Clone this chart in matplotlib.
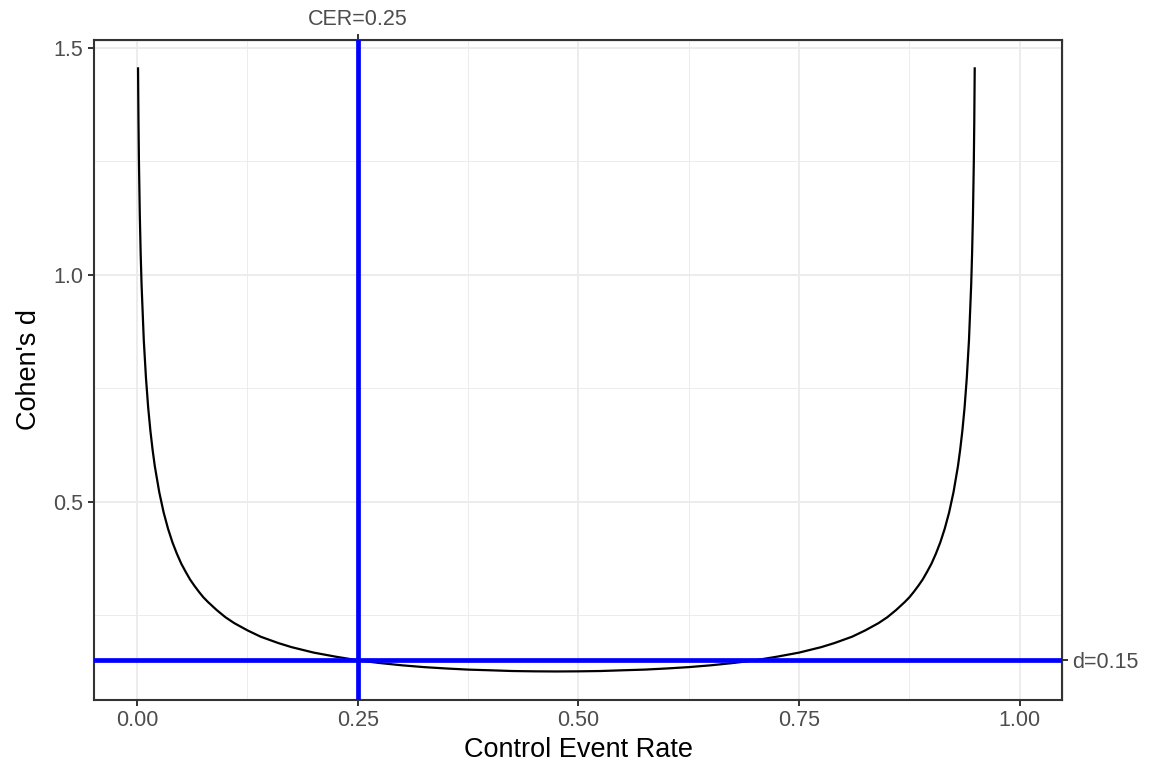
import matplotlib.pyplot as plt
from matplotlib.ticker import MultipleLocator

plt.rcParams['font.family'] = ['Liberation Sans', 'DejaVu Sans']

# control event rate and the Cohen's d
cer = [0.001, 0.0015, 0.002, 0.003, 0.004, 0.005, 0.0075, 0.01, 0.0125, 0.015,
       0.0175, 0.02, 0.025, 0.03, 0.035, 0.04, 0.045, 0.05, 0.055, 0.06,
       0.065, 0.07, 0.075, 0.08, 0.09, 0.10, 0.11, 0.125, 0.14, 0.15,
       0.16, 0.175, 0.20, 0.225, 0.25, 0.275, 0.30, 0.325, 0.35, 0.375,
       0.40, 0.425, 0.45, 0.475, 0.50, 0.525, 0.55, 0.575, 0.60, 0.625,
       0.65, 0.675, 0.70, 0.725, 0.75, 0.775, 0.79, 0.80, 0.81, 0.825,
       0.84, 0.85, 0.86, 0.87, 0.875, 0.88, 0.885, 0.89, 0.895, 0.90,
       0.905, 0.91, 0.915, 0.92, 0.925, 0.93, 0.9325, 0.935, 0.9375, 0.94,
       0.9425, 0.945, 0.946, 0.947, 0.948, 0.9485, 0.949]
cohen_d = [1.455, 1.337, 1.252, 1.131, 1.045, 0.978, 0.856, 0.772, 0.707, 0.656,
           0.614, 0.578, 0.521, 0.476, 0.440, 0.410, 0.385, 0.363, 0.345, 0.328,
           0.314, 0.301, 0.289, 0.279, 0.261, 0.245, 0.232, 0.216, 0.202, 0.195,
           0.188, 0.179, 0.167, 0.158, 0.150, 0.144, 0.139, 0.135, 0.132, 0.1295,
           0.128, 0.1264, 0.1257, 0.1254, 0.1257, 0.1264, 0.128, 0.1295, 0.132, 0.135,
           0.139, 0.144, 0.150, 0.158, 0.167, 0.179, 0.188, 0.195, 0.202, 0.216,
           0.232, 0.245, 0.261, 0.279, 0.289, 0.301, 0.314, 0.328, 0.345, 0.363,
           0.385, 0.410, 0.440, 0.476, 0.521, 0.578, 0.614, 0.656, 0.707, 0.772,
           0.856, 0.978, 1.045, 1.131, 1.252, 1.337, 1.455]

cer_ref = 0.25
d_ref = 0.15

x_ticks = [0.00, 0.25, 0.50, 0.75, 1.00]
x_labels = ["0.00", "0.25", "0.50", "0.75", "1.00"]
y_ticks = [0.5, 1.0, 1.5]
y_labels = ["0.5", "1.0", "1.5"]

fig = plt.figure(figsize=(11.49, 7.65), dpi=100)
ax = fig.add_axes([94 / 1149, 1 - 700 / 765, (1062 - 94) / 1149, (700 - 40) / 765])

ax.plot(cer, cohen_d, color="black", lw=1.6, zorder=3, solid_joinstyle="round")
ax.axvline(cer_ref, color="#0000ff", lw=3.4, zorder=4)
ax.axhline(d_ref, color="#0000ff", lw=3.4, zorder=4)

ax.set_xlim(-0.0489, 1.0479)
ax.set_ylim(0.0625, 1.5176)

ax.set_xticks(x_ticks)
ax.set_xticklabels(x_labels)
ax.set_yticks(y_ticks)
ax.set_yticklabels(y_labels)
ax.xaxis.set_minor_locator(MultipleLocator(0.125))
ax.yaxis.set_minor_locator(MultipleLocator(0.25))

ax.grid(which="major", color="#ebebeb", lw=1.3, zorder=0)
ax.grid(which="minor", color="#ebebeb", lw=0.65, zorder=0)
ax.set_axisbelow(True)
tick_kw = dict(length=4.5, width=1.4, color="#333333", labelcolor="#4d4d4d",
               labelsize=15.5, pad=3)
ax.tick_params(which="major", **tick_kw)
ax.tick_params(which="minor", length=0)
for s in ax.spines.values():
    s.set_color("#333333")
    s.set_linewidth(1.5)

ax.set_xlabel("Control Event Rate", fontsize=19.5, labelpad=4)
ax.set_ylabel("Cohen's d", fontsize=19.5, labelpad=8)

top = ax.secondary_xaxis("top")
top.set_xticks([cer_ref])
top.set_xticklabels([f"CER={cer_ref}"])
top.tick_params(**tick_kw)

right = ax.secondary_yaxis("right")
right.set_yticks([d_ref])
right.set_yticklabels([f"d={d_ref}"])
right.tick_params(**tick_kw)

fig.savefig("out.png", dpi=100)
